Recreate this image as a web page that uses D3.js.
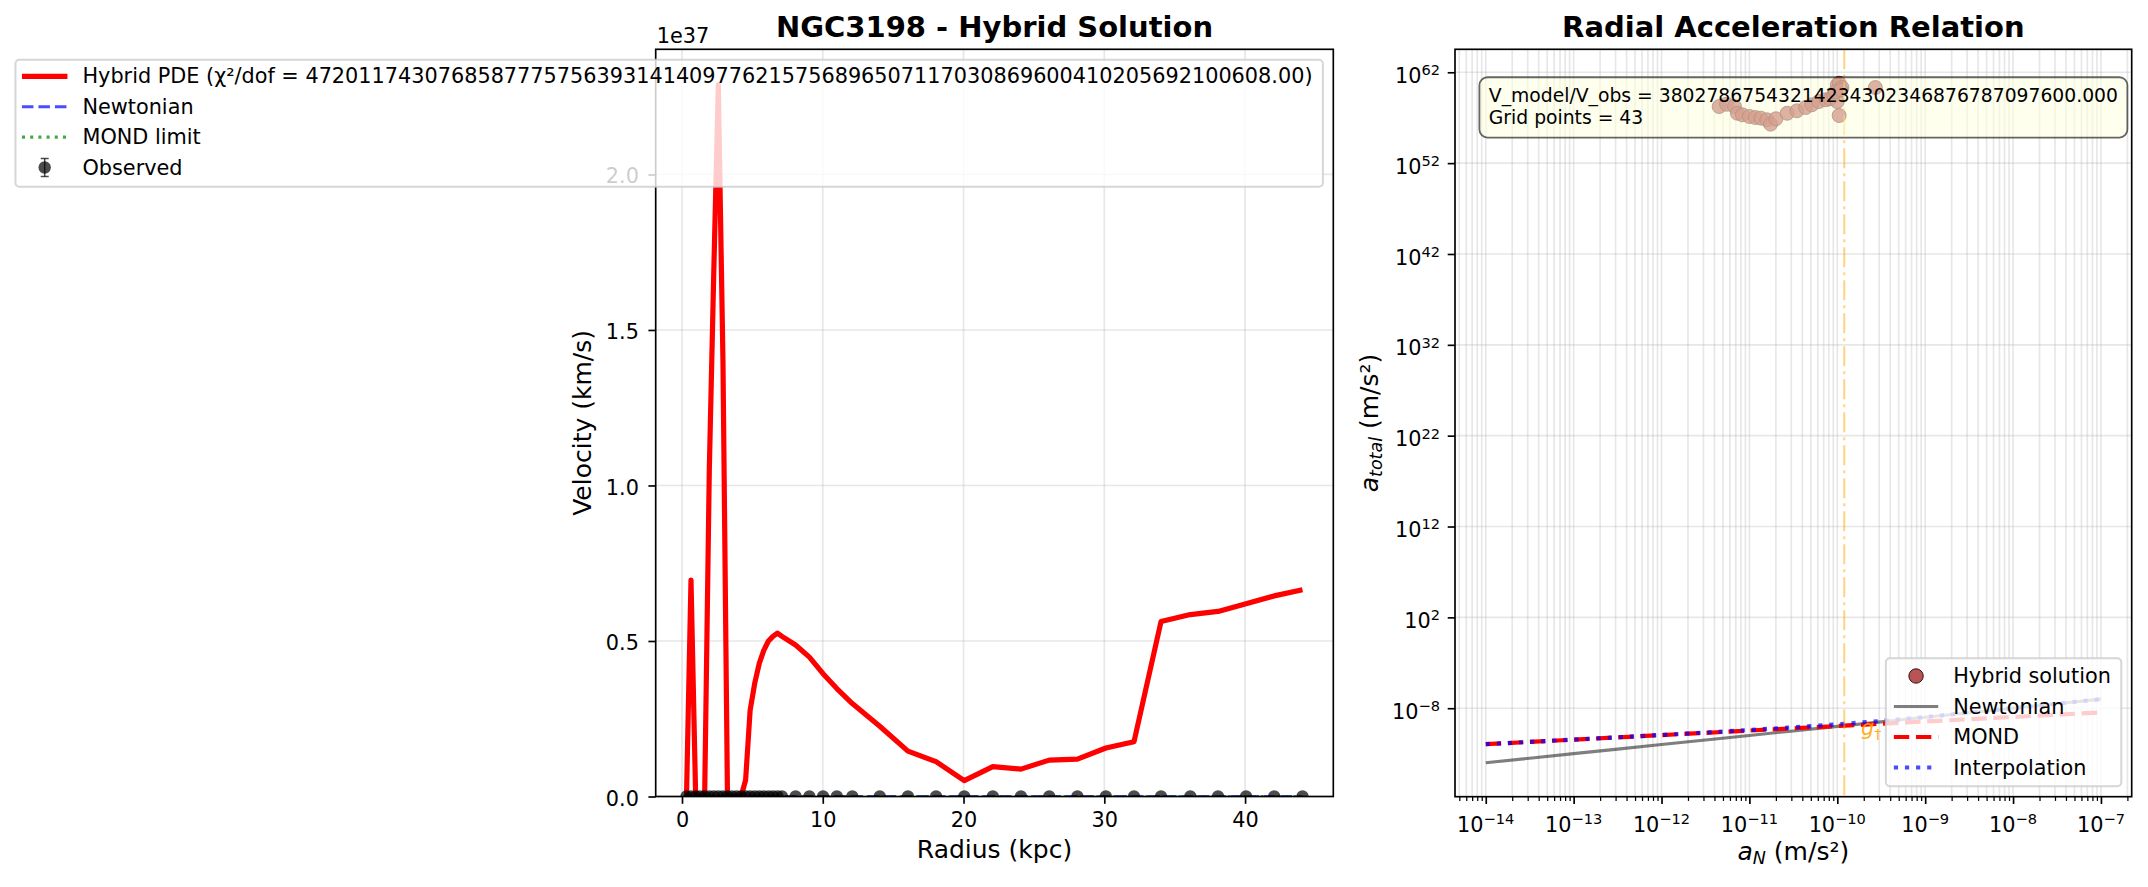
<!DOCTYPE html>
<html><head><meta charset="utf-8">
<script src="https://cdn.jsdelivr.net/npm/d3@7"></script>
<style>
body{margin:0;background:#fff;}
text{font-family:"DejaVu Sans",sans-serif;}
</style></head>
<body><svg id="c" width="2148" height="887" xmlns="http://www.w3.org/2000/svg"></svg>
<script>
// ---------------- DATA ----------------
const radius = [0.32,0.64,0.97,1.29,1.61,1.94,2.26,2.58,2.91,3.23,3.55,3.88,4.20,4.52,4.84,5.17,5.49,5.81,6.14,6.46,6.78,7.10,8.07,9.05,10.02,11.00,12.10,14.05,16.05,18.05,20.05,22.08,24.08,26.09,28.09,30.11,32.11,34.03,36.11,38.08,40.07,42.07,44.08];
// Hybrid PDE model velocity (km/s)
const vHybrid = [0,6.96e36,0,0,0,1.05e37,1.69e37,2.288e37,1.40e37,0,0,0,0,5.3e35,2.77e36,3.65e36,4.28e36,4.70e36,5.00e36,5.15e36,5.25e36,5.15e36,4.87e36,4.48e36,3.95e36,3.47e36,2.99e36,2.26e36,1.46e36,1.12e36,5.1e35,9.6e35,8.8e35,1.17e36,1.20e36,1.56e36,1.76e36,5.625e36,5.85e36,5.95e36,6.20e36,6.45e36,6.65e36];
// Observed rotation velocity (km/s) and errors -- indistinguishable from 0 on the 1e37 scale
const vObs = [24,43,60,73,82,90,96,101,106,110,113,115,118,120,123,125,128,131,133,135,137,139,143,146,148,150,151,152,151,151,150,150,150,151,151,152,151,150,149,149,148,147,147];
const vErr = [4,4,4,4,3,3,3,3,3,3,3,3,3,3,3,3,3,3,3,3,3,3,2,2,2,2,2,2,2,2,2,2,2,2,2,2,2,2,2,2,2,2,2];
const vNewton = [20,38,52,63,71,77,82,86,89,91,93,94,95,96,96,96,96,95,95,94,93,92,90,87,85,82,79,75,71,67,64,61,58,56,54,52,50,49,47,46,45,44,43];
const vMondLimit = [40,58,70,80,87,93,98,102,106,109,111,113,115,116,117,118,118,118,118,118,118,118,117,116,115,114,113,111,108,106,104,102,100,99,97,96,94,93,92,91,90,89,88];
const leftXTicks = [0,10,20,30,40];
const leftYTicks = [0,0.5,1.0,1.5,2.0]; // in units of 1e37

const chi2Label = "Hybrid PDE (χ²/dof = 4720117430768587775756393141409776215756896507117030869600410205692100608.00)";
const ratioLabel = "V_model/V_obs = 38027867543214234302346876787097600.000";
const gridLabel = "Grid points = 43";

// Radial acceleration relation
const a0 = 1.2e-10;
const rarAN     = [1e-14,3.162e-14,1e-13,3.162e-13,1e-12,3.162e-12,1e-11,3.162e-11,1e-10,3.162e-10,1e-9,3.162e-9,1e-8,3.162e-8,1e-7];
const rarNewton = [1e-14,3.162e-14,1e-13,3.162e-13,1e-12,3.162e-12,1e-11,3.162e-11,1e-10,3.162e-10,1e-9,3.162e-9,1e-8,3.162e-8,1e-7];
const rarMond   = [1.095e-12,1.950e-12,3.467e-12,6.166e-12,1.095e-11,1.950e-11,3.467e-11,6.166e-11,1.095e-10,1.950e-10,3.467e-10,6.166e-10,1.095e-9,1.950e-9,3.467e-9];
const rarInterp = [1.100e-12,1.964e-12,3.514e-12,6.319e-12,1.146e-11,2.110e-11,3.988e-11,7.876e-11,1.671e-10,3.939e-10,1.059e-9,3.181e-9,1.000e-8,3.162e-8,1.0e-7];
// Hybrid solution scatter (a_N, a_total) in m/s^2
const hybAN   = [4.53e-12,5.50e-12,6.76e-12,7.31e-12,8.32e-12,1.0e-11,1.17e-11,1.35e-11,1.58e-11,1.74e-11,2.0e-11,2.69e-11,3.47e-11,4.37e-11,5.13e-11,6.17e-11,7.41e-11,8.32e-11,9.12e-11,1.0e-10,1.05e-10,1.13e-10,1.0e-10,1.05e-10,2.71e-10,9.55e-11,1.10e-10];
const hybAtot = [1.70e58,3.02e58,1.70e58,3.09e57,2.09e57,1.35e57,1.05e57,8.9e56,5.9e56,1.95e56,7.6e56,3.09e57,5.75e57,1.32e58,2.63e58,6.03e58,9.33e58,1.20e59,3.31e59,4.17e60,6.17e60,2.09e60,6.03e58,1.74e57,2.09e60,7.08e59,1.15e60];
const rarXTickExp = [-14,-13,-12,-11,-10,-9,-8,-7];
const rarYTickExp = [-8,2,12,22,32,42,52,62];

// ---------------- LAYOUT ----------------
const svg = d3.select("#c");
const FS = 20.8, FS_L = 25, FS_T = 29;
const GRID = "#b0b0b0";
const L = {x0:655.7, x1:1333.3, y0:49.3, y1:796.5};
const R = {x0:1455, x1:2131.7, y0:49.3, y1:796.7};

function minusNum(e){ return (e<0 ? "\u2212" : "") + Math.abs(e); }

// ---------------- LEFT PANEL ----------------
const rExt = d3.extent(radius), rPad = (rExt[1]-rExt[0])*0.05;
const xL = d3.scaleLinear().domain([rExt[0]-rPad, rExt[1]+rPad]).range([L.x0, L.x1]);
const yL = d3.scaleLinear().domain([0, d3.max(vHybrid)*1.05]).range([L.y1, L.y0]);

svg.append("defs").append("clipPath").attr("id","clipL")
  .append("rect").attr("x",L.x0).attr("y",L.y0).attr("width",L.x1-L.x0).attr("height",L.y1-L.y0);
const defs = svg.select("defs");
defs.append("clipPath").attr("id","clipR")
  .append("rect").attr("x",R.x0).attr("y",R.y0).attr("width",R.x1-R.x0).attr("height",R.y1-R.y0);

const gL = svg.append("g");
// grid
gL.selectAll(".gx").data(leftXTicks).enter().append("line")
  .attr("x1",d=>xL(d)).attr("x2",d=>xL(d)).attr("y1",L.y0).attr("y2",L.y1)
  .attr("stroke",GRID).attr("stroke-opacity",0.3).attr("stroke-width",1.67);
gL.selectAll(".gy").data(leftYTicks).enter().append("line")
  .attr("x1",L.x0).attr("x2",L.x1).attr("y1",d=>yL(d*1e37)).attr("y2",d=>yL(d*1e37))
  .attr("stroke",GRID).attr("stroke-opacity",0.3).attr("stroke-width",1.67);

const plotL = gL.append("g").attr("clip-path","url(#clipL)");
const lineL = arr => d3.line().x((d,i)=>xL(radius[i])).y(d=>yL(d))(arr);
plotL.append("path").attr("d",lineL(vNewton)).attr("fill","none")
  .attr("stroke","#0000ff").attr("stroke-opacity",0.7).attr("stroke-width",3.1).attr("stroke-dasharray","11.5,5");
plotL.append("path").attr("d",lineL(vMondLimit)).attr("fill","none")
  .attr("stroke","#008000").attr("stroke-opacity",0.7).attr("stroke-width",3.1).attr("stroke-dasharray","3.1,5.1");
plotL.append("path").attr("d",lineL(vHybrid)).attr("fill","none")
  .attr("stroke","#ff0000").attr("stroke-width",5.2).attr("stroke-linejoin","round");
// observed errorbars + points
plotL.selectAll(".eb").data(vObs).enter().append("line")
  .attr("x1",(d,i)=>xL(radius[i])).attr("x2",(d,i)=>xL(radius[i]))
  .attr("y1",(d,i)=>yL(d-vErr[i])).attr("y2",(d,i)=>yL(d+vErr[i]))
  .attr("stroke","#000").attr("stroke-opacity",0.7).attr("stroke-width",1.5);
plotL.selectAll(".ob").data(vObs).enter().append("circle")
  .attr("cx",(d,i)=>xL(radius[i])).attr("cy",d=>yL(d)).attr("r",6.2)
  .attr("fill","#000").attr("fill-opacity",0.7);

// axes
function styleAxis(g){
  g.select(".domain").remove();
  g.selectAll(".tick line").attr("stroke","#000").attr("stroke-width",1.67);
  g.selectAll(".tick text").attr("fill","#000").attr("font-size",FS).attr("font-family","DejaVu Sans");
}
gL.append("g").attr("transform",`translate(0,${L.y1})`)
  .call(d3.axisBottom(xL).tickValues(leftXTicks).tickSize(7.3).tickPadding(8.7).tickSizeOuter(0).tickFormat(d3.format("d")))
  .call(styleAxis);
const gyL = gL.append("g").attr("transform",`translate(${L.x0},0)`)
  .call(d3.axisLeft(yL).tickValues(leftYTicks.map(t=>t*1e37)).tickSize(7.3).tickPadding(9.5).tickSizeOuter(0).tickFormat(d=>(d/1e37).toFixed(1)))
  .call(styleAxis);
gyL.selectAll(".tick text").attr("dy","0.41em");
// spines
gL.append("rect").attr("x",L.x0).attr("y",L.y0).attr("width",L.x1-L.x0).attr("height",L.y1-L.y0)
  .attr("fill","none").attr("stroke","#000").attr("stroke-width",1.67);
gL.append("text").attr("x",L.x0+1).attr("y",42.7).attr("font-size",FS).text("1e37");
gL.append("text").attr("x",(L.x0+L.x1)/2).attr("y",36.7).attr("text-anchor","middle")
  .attr("font-size",FS_T).attr("font-weight","bold").text("NGC3198 - Hybrid Solution");
gL.append("text").attr("x",(L.x0+L.x1)/2).attr("y",858).attr("text-anchor","middle")
  .attr("font-size",FS_L).text("Radius (kpc)");
gL.append("text").attr("transform",`translate(591,${(L.y0+L.y1)/2}) rotate(-90)`).attr("text-anchor","middle")
  .attr("font-size",FS_L).text("Velocity (km/s)");

// ---------------- RIGHT PANEL ----------------
const allX = rarAN.concat(hybAN).map(Math.log10);
const allY = rarNewton.concat(rarMond, rarInterp, hybAtot).map(Math.log10);
const lx = d3.extent(allX), ly = d3.extent(allY);
const px = (lx[1]-lx[0])*0.05, py = (ly[1]-ly[0])*0.05;
const xR = d3.scaleLog().domain([Math.pow(10,lx[0]-px), Math.pow(10,lx[1]+px)]).range([R.x0,R.x1]);
const yR = d3.scaleLog().domain([Math.pow(10,ly[0]-py), Math.pow(10,ly[1]+py)]).range([R.y1,R.y0]);

const gR = svg.append("g");
const xMinor = [];
for (let e=-15;e<=-7;e++) for (let m=2;m<=9;m++){ const v=m*Math.pow(10,e); if (v>=xR.domain()[0] && v<=xR.domain()[1]) xMinor.push(v); }
const xMajor = rarXTickExp.map(e=>Math.pow(10,e));
const yMajor = rarYTickExp.map(e=>Math.pow(10,e));
gR.selectAll(".gxm").data(xMajor.concat(xMinor)).enter().append("line")
  .attr("x1",d=>xR(d)).attr("x2",d=>xR(d)).attr("y1",R.y0).attr("y2",R.y1)
  .attr("stroke",GRID).attr("stroke-opacity",0.3).attr("stroke-width",1.67);
gR.selectAll(".gy").data(yMajor).enter().append("line")
  .attr("x1",R.x0).attr("x2",R.x1).attr("y1",d=>yR(d)).attr("y2",d=>yR(d))
  .attr("stroke",GRID).attr("stroke-opacity",0.3).attr("stroke-width",1.67);

const plotR = gR.append("g").attr("clip-path","url(#clipR)");
// scatter first
plotR.selectAll(".hs").data(hybAtot).enter().append("circle")
  .attr("cx",(d,i)=>xR(hybAN[i])).attr("cy",d=>yR(d)).attr("r",7)
  .attr("fill","#a52a2a").attr("fill-opacity",0.8).attr("stroke","#4a1515").attr("stroke-opacity",0.8).attr("stroke-width",1);
const lineR = arr => d3.line().x((d,i)=>xR(rarAN[i])).y(d=>yR(d))(arr);
plotR.append("path").attr("d",lineR(rarNewton)).attr("fill","none")
  .attr("stroke","#000").attr("stroke-opacity",0.5).attr("stroke-width",3.1);
plotR.append("path").attr("d",lineR(rarMond)).attr("fill","none")
  .attr("stroke","#ff0000").attr("stroke-width",4.2).attr("stroke-dasharray","15.4,6.7");
plotR.append("path").attr("d",lineR(rarInterp)).attr("fill","none")
  .attr("stroke","#0000ff").attr("stroke-opacity",0.7).attr("stroke-width",4.2).attr("stroke-dasharray","4.2,6.9");
// a0 line
plotR.append("line").attr("x1",xR(a0)).attr("x2",xR(a0)).attr("y1",R.y0).attr("y2",R.y1)
  .attr("stroke","#ffa500").attr("stroke-opacity",0.5).attr("stroke-width",2).attr("stroke-dasharray","20,5,3,5");
const gt = gR.append("text").attr("x",xR(a0*1.55)).attr("y",735).attr("font-size",FS).attr("fill","#ffa500").attr("fill-opacity",0.9);
gt.append("tspan").attr("font-style","italic").text("g");
gt.append("tspan").attr("font-size",14.6).attr("dy",4).text("\u2020");

// axes
gR.append("g").attr("transform",`translate(0,${R.y1})`)
  .call(d3.axisBottom(xR).tickValues(xMinor).tickSize(4.2).tickSizeOuter(0).tickFormat(""))
  .call(g=>{ g.select(".domain").remove(); g.selectAll(".tick line").attr("stroke","#000").attr("stroke-width",1.25); });
gR.append("g").attr("transform",`translate(0,${R.y1})`)
  .call(d3.axisBottom(xR).tickValues(xMajor).tickSize(7.3).tickSizeOuter(0).tickFormat(""))
  .call(styleAxis);
gR.append("g").attr("transform",`translate(${R.x0},0)`)
  .call(d3.axisLeft(yR).tickValues(yMajor).tickSize(7.3).tickSizeOuter(0).tickFormat(""))
  .call(styleAxis);
rarXTickExp.forEach(e=>{
  const t = gR.append("text").attr("x",xR(Math.pow(10,e))).attr("y",831.7).attr("text-anchor","middle").attr("font-size",FS);
  t.append("tspan").text("10");
  t.append("tspan").attr("font-size",14.6).attr("dy",-7.7).text(minusNum(e));
});
rarYTickExp.forEach(e=>{
  const t = gR.append("text").attr("x",R.x0-14.9).attr("y",yR(Math.pow(10,e))+10.6).attr("text-anchor","end").attr("font-size",FS);
  t.append("tspan").text("10");
  t.append("tspan").attr("font-size",14.6).attr("dy",-7.7).text(minusNum(e));
});
gR.append("rect").attr("x",R.x0).attr("y",R.y0).attr("width",R.x1-R.x0).attr("height",R.y1-R.y0)
  .attr("fill","none").attr("stroke","#000").attr("stroke-width",1.67);
gR.append("text").attr("x",(R.x0+R.x1)/2).attr("y",36.7).attr("text-anchor","middle")
  .attr("font-size",FS_T).attr("font-weight","bold").text("Radial Acceleration Relation");
const xl = gR.append("text").attr("x",(R.x0+R.x1)/2).attr("y",860).attr("text-anchor","middle").attr("font-size",FS_L);
xl.append("tspan").attr("font-style","italic").text("a");
xl.append("tspan").attr("font-style","italic").attr("font-size",17.5).attr("dy",4).text("N");
xl.append("tspan").attr("dy",-4).text(" (m/s²)");
const yl = gR.append("text").attr("transform",`translate(1378,${(R.y0+R.y1)/2}) rotate(-90)`).attr("text-anchor","middle").attr("font-size",FS_L);
yl.append("tspan").attr("font-style","italic").text("a");
yl.append("tspan").attr("font-style","italic").attr("font-size",17.5).attr("dy",4).text("total");
yl.append("tspan").attr("dy",-4).text(" (m/s²)");

// annotation box
const annX = R.x0 + 0.05*(R.x1-R.x0), annTop = R.y0 + 0.05*(R.y1-R.y0);
const annG = gR.append("g");
const annBox = annG.append("rect");
const annT = annG.append("text").attr("font-size",18.75);
annT.append("tspan").attr("x",annX).attr("y",annTop+15.2).text(ratioLabel);
annT.append("tspan").attr("x",annX).attr("y",annTop+37.7).text(gridLabel);
const annW = annT.node().getBBox().width;
annBox.attr("x",annX-9.4).attr("y",annTop-9.4).attr("width",annW+18.8).attr("height",60.3).attr("rx",8)
  .attr("fill","#ffffe0").attr("fill-opacity",0.55).attr("stroke","#000").attr("stroke-opacity",0.6).attr("stroke-width",1.8);

// ---------------- LEGENDS ----------------
function legendFrame(g, x, y, w, h){
  g.append("rect").attr("x",x).attr("y",y).attr("width",w).attr("height",h).attr("rx",4)
    .attr("fill","#fff").attr("fill-opacity",0.8).attr("stroke","#cccccc").attr("stroke-opacity",0.8).attr("stroke-width",2);
}
// left legend (upper right of left axes)
{
  const g = svg.append("g");
  const frameG = g.append("g");
  const top = L.y0 + 10.4, right = L.x1 - 10.4;
  const labels = [chi2Label, "Newtonian", "MOND limit", "Observed"];
  const tmp = g.append("text").attr("font-size",FS).text(chi2Label);
  const tw = tmp.node().getComputedTextLength(); tmp.remove();
  const tx = right - 10.4 - tw;
  legendFrame(frameG, tx-67, top, right-(tx-67), 127);
  const rows = labels.map((d,i)=> top + 16.6 + i*30.4);
  const hx0 = tx - 60.5, hx1 = tx - 15, hxc = (hx0+hx1)/2;
  g.append("line").attr("x1",hx0).attr("x2",hx1).attr("y1",rows[0]).attr("y2",rows[0]).attr("stroke","#ff0000").attr("stroke-width",5.2);
  g.append("line").attr("x1",hx0).attr("x2",hx1).attr("y1",rows[1]).attr("y2",rows[1]).attr("stroke","#0000ff").attr("stroke-opacity",0.7).attr("stroke-width",3.1).attr("stroke-dasharray","11.5,5");
  g.append("line").attr("x1",hx0).attr("x2",hx1).attr("y1",rows[2]).attr("y2",rows[2]).attr("stroke","#008000").attr("stroke-opacity",0.7).attr("stroke-width",3.1).attr("stroke-dasharray","3.1,5.1");
  g.append("line").attr("x1",hxc).attr("x2",hxc).attr("y1",rows[3]-9).attr("y2",rows[3]+9).attr("stroke","#000").attr("stroke-opacity",0.7).attr("stroke-width",1.5);
  g.append("line").attr("x1",hxc-4).attr("x2",hxc+4).attr("y1",rows[3]-9).attr("y2",rows[3]-9).attr("stroke","#000").attr("stroke-opacity",0.7).attr("stroke-width",1.5);
  g.append("line").attr("x1",hxc-4).attr("x2",hxc+4).attr("y1",rows[3]+9).attr("y2",rows[3]+9).attr("stroke","#000").attr("stroke-opacity",0.7).attr("stroke-width",1.5);
  g.append("circle").attr("cx",hxc).attr("cy",rows[3]).attr("r",6.2).attr("fill","#000").attr("fill-opacity",0.7);
  labels.forEach((d,i)=> g.append("text").attr("x",tx).attr("y",rows[i]+7).attr("font-size",FS).text(d));
}
// right legend (lower right)
{
  const g = svg.append("g");
  const frameG = g.append("g");
  const bottom = R.y1 - 10.4, right = R.x1 - 10.4, top = bottom - 128;
  const labels = ["Hybrid solution","Newtonian","MOND","Interpolation"];
  const tmp = g.append("text").attr("font-size",FS).text(labels[0]);
  const tw = tmp.node().getComputedTextLength(); tmp.remove();
  const tx = right - 10.4 - tw;
  legendFrame(frameG, tx-67.4, top, right-(tx-67.4), 128);
  const rows = labels.map((d,i)=> top + 17.7 + i*30.5);
  const hx0 = tx - 59.4, hx1 = tx - 15, hxc = (hx0+hx1)/2;
  g.append("circle").attr("cx",hxc).attr("cy",rows[0]).attr("r",7.2)
    .attr("fill","#a52a2a").attr("fill-opacity",0.8).attr("stroke","#3a1010").attr("stroke-width",1);
  g.append("line").attr("x1",hx0).attr("x2",hx1).attr("y1",rows[1]).attr("y2",rows[1]).attr("stroke","#000").attr("stroke-opacity",0.5).attr("stroke-width",3.1);
  g.append("line").attr("x1",hx0).attr("x2",hx1).attr("y1",rows[2]).attr("y2",rows[2]).attr("stroke","#ff0000").attr("stroke-width",4.2).attr("stroke-dasharray","15.4,6.7");
  g.append("line").attr("x1",hx0).attr("x2",hx1).attr("y1",rows[3]).attr("y2",rows[3]).attr("stroke","#0000ff").attr("stroke-opacity",0.7).attr("stroke-width",4.2).attr("stroke-dasharray","4.2,6.9");
  labels.forEach((d,i)=> g.append("text").attr("x",tx).attr("y",rows[i]+7).attr("font-size",FS).text(d));
}
</script>
</body></html>
